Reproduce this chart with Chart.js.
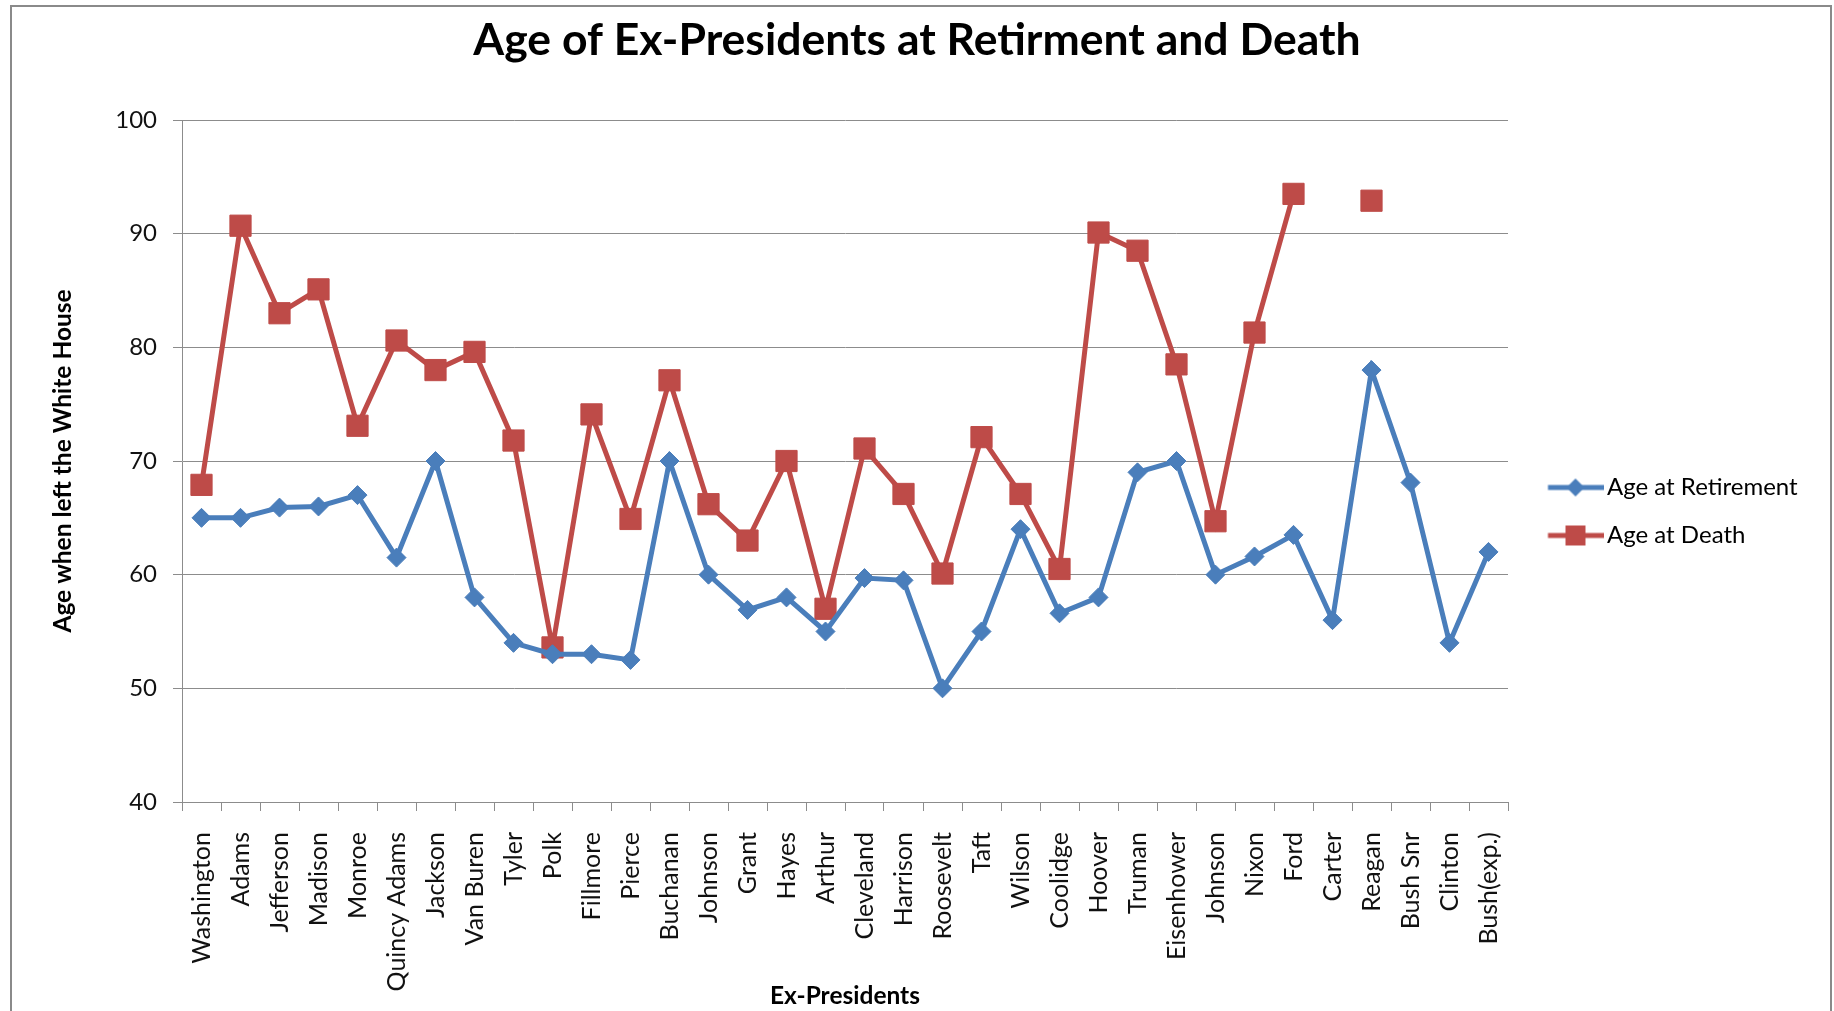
<!DOCTYPE html>
<html><head><meta charset="utf-8">
<script src="https://cdn.jsdelivr.net/npm/chart.js@4"></script>
<style>html,body{margin:0;padding:0;background:#fff;}canvas{display:block;}</style>
</head><body>
<canvas id="c" width="1834" height="1011"></canvas>
<script>
const categories = ['Washington','Adams','Jefferson','Madison','Monroe','Quincy Adams','Jackson','Van Buren','Tyler','Polk','Fillmore','Pierce','Buchanan','Johnson','Grant','Hayes','Arthur','Cleveland','Harrison','Roosevelt','Taft','Wilson','Coolidge','Hoover','Truman','Eisenhower','Johnson','Nixon','Ford','Carter','Reagan','Bush Snr','Clinton','Bush(exp.)'];
const retirementAges = [65, 65, 65.9, 66, 67, 61.5, 70, 58, 54, 53, 53, 52.5, 70, 60, 56.9, 58, 55, 59.7, 59.5, 50, 55, 64, 56.6, 58, 69, 70, 60, 61.6, 63.5, 56, 78, 68.1, 54, 62];
const deathAges = [67.9, 90.7, 83, 85.1, 73.1, 80.6, 78, 79.6, 71.8, 53.6, 74.1, 64.9, 77.1, 66.2, 63, 70, 57, 71.1, 67.1, 60.1, 72.1, 67.1, 60.5, 90.1, 88.5, 78.5, 64.7, 81.3, 93.5, null, 92.9, null, null, null];
const seriesNames = ['Age at Retirement', 'Age at Death'];
const yMin = 40, yMax = 100, yStep = 10;
const chartTitle = 'Age of Ex-Presidents at Retirment and Death';
const xAxisTitle = 'Ex-Presidents';
const yAxisTitle = 'Age when left the White House';

const BLUE = '#4A7EBB', RED = '#BE4B48', GRID = '#8C8C8C';
const FONT = 'Lato';

function legendImage(kind, color) {
  const c = document.createElement('canvas');
  c.width = 80; c.height = 28;
  const g = c.getContext('2d');
  g.strokeStyle = color; g.fillStyle = color; g.lineWidth = 5;
  g.beginPath(); g.moveTo(24.5, 14); g.lineTo(80, 14); g.stroke();
  const cx = 52, cy = 14;
  g.beginPath();
  if (kind === 'diamond') {
    const r = 9;
    g.moveTo(cx, cy - r); g.lineTo(cx + r, cy); g.lineTo(cx, cy + r); g.lineTo(cx - r, cy); g.closePath();
  } else {
    const h = 10;
    g.rect(cx - h, cy - h, 2 * h, 2 * h);
  }
  g.fill();
  return c;
}
const legendImgs = [legendImage('diamond', BLUE), legendImage('square', RED)];

const framePlugin = {
  id: 'frame',
  beforeDraw(chart) {
    const ctx = chart.ctx;
    ctx.save(); ctx.fillStyle = '#fff'; ctx.fillRect(0, 0, chart.width, chart.height); ctx.restore();
  },
  afterDraw(chart) {
    const ctx = chart.ctx;
    ctx.save();
    ctx.strokeStyle = '#8a8a8a'; ctx.lineWidth = 2;
    ctx.beginPath(); ctx.moveTo(11, 1011); ctx.lineTo(11, 6); ctx.lineTo(1831, 6); ctx.lineTo(1831, 1011); ctx.stroke();
    ctx.restore();
  }
};
const legendWidthPlugin = {
  id: 'legendWidth',
  afterInit(chart) {
    const lg = chart.legend;
    if (!lg) return;
    const fit = lg.fit.bind(lg);
    lg.fit = function () { fit(); this.width = 326; };
  }
};

new Chart(document.getElementById('c'), {
  type: 'line',
  data: {
    labels: categories,
    datasets: [
      { label: seriesNames[0], data: retirementAges, borderColor: BLUE, backgroundColor: BLUE, borderWidth: 5,
        pointStyle: 'rectRot', pointRadius: 9.5, pointBorderWidth: 1, pointBackgroundColor: BLUE, pointBorderColor: BLUE, tension: 0 },
      { label: seriesNames[1], data: deathAges, borderColor: RED, backgroundColor: RED, borderWidth: 5,
        pointStyle: 'rect', pointRadius: 15, pointBorderWidth: 1, pointBackgroundColor: RED, pointBorderColor: RED, tension: 0, spanGaps: false }
    ]
  },
  options: {
    responsive: false, animation: false, devicePixelRatio: 1,
    layout: { padding: 0 },
    plugins: {
      title: { display: true, text: chartTitle, color: '#000', font: { family: FONT, size: 44.5, weight: 'bold' }, padding: { top: 14.3, bottom: 52.3 } },
      legend: {
        position: 'right',
        title: { display: true, text: '', font: { size: 10 }, padding: { top: 0, bottom: 0 } },
        labels: {
          usePointStyle: true, pointStyleWidth: 63, boxHeight: 24, padding: 24,
          color: '#000', font: { family: FONT, size: 24 },
          generateLabels: (chart) => chart.data.datasets.map((ds, i) => ({
            text: ds.label, pointStyle: legendImgs[i], fillStyle: ds.borderColor, strokeStyle: ds.borderColor,
            lineWidth: 0, hidden: false, datasetIndex: i, fontColor: '#000'
          }))
        }
      },
      tooltip: { enabled: false }
    },
    scales: {
      x: {
        offset: true,
        grid: { offset: true, drawOnChartArea: false, drawTicks: true, tickLength: 9, color: GRID },
        border: { display: true, color: GRID, width: 1 },
        ticks: { autoSkip: false, minRotation: 90, maxRotation: 90, padding: 21, color: '#111', font: { family: FONT, size: 25 } },
        title: { display: true, text: xAxisTitle, color: '#000', font: { family: FONT, size: 24.5, weight: 'bold' }, padding: { top: 0, bottom: 0 } },
        afterFit(scale) { scale.height = 209; scale.paddingLeft = 0; scale.paddingRight = 0; }
      },
      y: {
        min: yMin, max: yMax,
        grid: { color: GRID, drawTicks: true, tickLength: 9 },
        border: { display: true, color: GRID, width: 1 },
        ticks: { stepSize: yStep, padding: 16, color: '#111', font: { family: FONT, size: 24 } },
        title: { display: true, text: yAxisTitle, color: '#000', font: { family: FONT, size: 24.5, weight: 'bold' }, padding: { top: 48, bottom: 0 } },
        afterFit(scale) { scale.width = 182; }
      }
    }
  },
  plugins: [framePlugin, legendWidthPlugin]
});
</script>
</body></html>
